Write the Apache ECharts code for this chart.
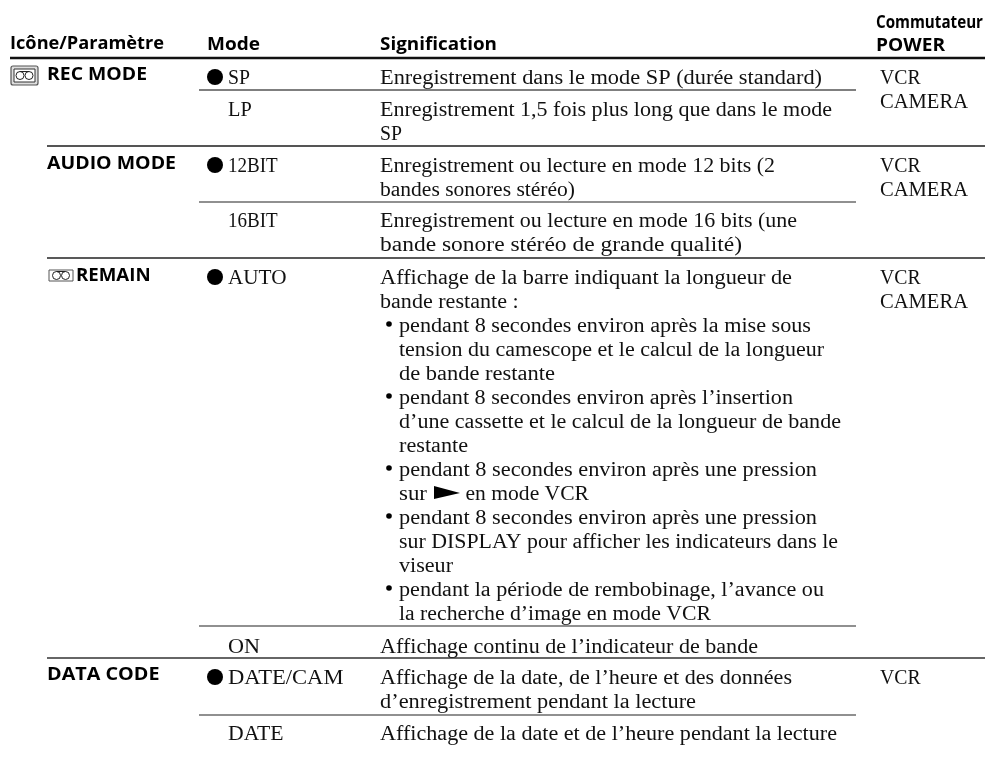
<!DOCTYPE html>
<html><head><meta charset="utf-8">
<style>html,body{margin:0;padding:0;background:#fff}#c{width:986px;height:765px}</style>
<script src="https://cdn.jsdelivr.net/npm/echarts@6/dist/echarts.min.js"></script>
</head><body><div id="c"></div>
<script>
// ---- table content ----
const columnHeaders = ['Icône/Paramètre', 'Mode', 'Signification'];
const switchHeader = ['Commutateur', 'POWER'];
const parameters = ['REC MODE', 'AUDIO MODE', 'REMAIN', 'DATA CODE'];
const modes = ['SP', 'LP', '12BIT', '16BIT', 'AUTO', 'ON', 'DATE/CAM', 'DATE'];
const defaultModes = ['SP', '12BIT', 'AUTO', 'DATE/CAM'];
const meanings = [
  ['Enregistrement dans le mode SP (durée standard)'],
  ['Enregistrement 1,5 fois plus long que dans le mode', 'SP'],
  ['Enregistrement ou lecture en mode 12 bits (2', 'bandes sonores stéréo)'],
  ['Enregistrement ou lecture en mode 16 bits (une', 'bande sonore stéréo de grande qualité)'],
  ['Affichage de la barre indiquant la longueur de', 'bande restante :',
   '•pendant 8 secondes environ après la mise sous', ' tension du camescope et le calcul de la longueur', ' de bande restante',
   '•pendant 8 secondes environ après l’insertion', ' d’une cassette et le calcul de la longueur de bande', ' restante',
   '•pendant 8 secondes environ après une pression', ' sur ► en mode VCR',
   '•pendant 8 secondes environ après une pression', ' sur DISPLAY pour afficher les indicateurs dans le', ' viseur',
   '•pendant la période de rembobinage, l’avance ou', ' la recherche d’image en mode VCR'],
  ['Affichage continu de l’indicateur de bande'],
  ['Affichage de la date, de l’heure et des données', 'd’enregistrement pendant la lecture'],
  ['Affichage de la date et de l’heure pendant la lecture']
];
const switches = [['VCR', 'CAMERA'], ['VCR', 'CAMERA'], ['VCR', 'CAMERA'], ['VCR']];

// ---- layout (page geometry, separate from the content) ----
const W = 986, H = 765;
const SERIF = '20.5px "Liberation Serif", serif';
const SANS = 'bold 18.2px "Open Sans", sans-serif';
const SERIF_DY = 1.2, SANS_DY = 1;
const rowY = [77, 109, 165, 220, 277, 646, 677, 733];
const paramY = [73.5, 163, 275, 674];
const paramX = [47, 47, 76, 47];
const paramEnd = [147, 176, 150.6, 159.5];
const modeEnd = [250, 251.7, 277.7, 277.7, 286.5, 260, 343.5, 283.5];
const meaningEnd = [
  [822], [832, 402], [775, 575], [797, 742],
  [792, 518.6, 811, 824, 555, 793, 841, 468, 817, 589, 817, 838, 453, 824, 711],
  [758], [792, 696], [837]
];
const switchY = [77, 165, 277, 677];
const switchEnd = {VCR: 920.6, CAMERA: 968};
const LINE = 24;
const X = {param: 10, mode: 207, modeText: 228, mean: 380, indent: 399, sw: 880, dot: 215, bullet: 389};
const rules = [
  [10, 985, 58, 2.5, '#111'],
  [199, 856, 90, 1.6, '#555'],
  [47, 985, 146, 1.8, '#555'],
  [199, 856, 202, 1.2, '#222'],
  [47, 985, 258, 1.4, '#222'],
  [199, 856, 626, 1.2, '#222'],
  [47, 985, 658, 1.4, '#333'],
  [199, 856, 715, 1.2, '#222']
];

const ctx = document.createElement('canvas').getContext('2d');
const texts = [], dots = [], arrows = [];
// each text is stretched horizontally so that it ends where the reference's line ends
const put = (x, y, text, font, end) => {
  ctx.font = font;
  const sx = end ? (end - x) / ctx.measureText(text).width : 1;
  texts.push({x, y: y + (font === SERIF ? SERIF_DY : SANS_DY), text, font, sx});
};
put(X.param, 43, columnHeaders[0], SANS, 164);
put(X.mode, 44, columnHeaders[1], SANS, 260);
put(X.mean, 44, columnHeaders[2], SANS, 497);
put(876, 22, switchHeader[0], SANS, 983);
put(876, 45, switchHeader[1], SANS, 945);
parameters.forEach((p, i) => put(paramX[i], paramY[i], p, SANS, paramEnd[i]));
modes.forEach((m, i) => {
  put(X.modeText, rowY[i], m, SERIF, modeEnd[i]);
  if (defaultModes.includes(m)) dots.push([X.dot, rowY[i], 8]);
});
meanings.forEach((lines, r) => lines.forEach((ln, i) => {
  const y = rowY[r] + i * LINE, end = meaningEnd[r][i];
  if (ln[0] === '•') { dots.push([X.bullet, y - 1, 2.8]); put(X.indent, y, ln.slice(1), SERIF, end); }
  else if (ln[0] === ' ') {
    if (ln.includes('►')) {
      const parts = ln.trim().split('►');
      put(X.indent, y, parts[0].trim(), SERIF, 427);
      arrows.push([434, y]);
      put(465.5, y, parts[1].trim(), SERIF, end);
    } else put(X.indent, y, ln.trim(), SERIF, end);
  } else put(X.mean, y, ln, SERIF, end);
}));
switches.forEach((s, i) => s.forEach((t, k) => put(X.sw, switchY[i] + k * LINE, t, SERIF, switchEnd[t])));

const chart = echarts.init(document.getElementById('c'), null, {renderer: 'canvas'});
const lineStyle = (w, c) => ({stroke: c, lineWidth: w, fill: 'none'});
function icon(api, x, y, w, h, big) {
  const [px, py] = api.coord([x, y]);
  const kids = [];
  kids.push({type: 'rect', shape: {x: px, y: py, width: w, height: h, r: big ? 2 : 0}, style: {stroke: '#555', lineWidth: big ? 1.2 : 1, fill: big ? '#ddd' : '#fff'}});
  if (big) kids.push({type: 'rect', shape: {x: px + 3, y: py + 3, width: w - 6, height: h - 6}, style: {stroke: '#333', lineWidth: 1, fill: '#fff'}});
  const r = 4, cx = px + w / 2, cy = py + h / 2;
  kids.push({type: 'circle', shape: {cx: cx - r - .5, cy, r}, style: {stroke: '#222', lineWidth: 1, fill: 'none'}});
  kids.push({type: 'circle', shape: {cx: cx + r + .5, cy, r}, style: {stroke: '#222', lineWidth: 1, fill: 'none'}});
  kids.push({type: 'line', shape: {x1: cx - r - .5, y1: cy - r, x2: cx + r + .5, y2: cy - r}, style: {stroke: '#222', lineWidth: 1}});
  return {type: 'group', children: kids};
}
const base = {type: 'custom', coordinateSystem: 'cartesian2d', silent: true, animation: false, clip: false};
chart.setOption({
  animation: false,
  backgroundColor: '#fff',
  grid: {left: 0, top: 0, width: W, height: H, containLabel: false},
  xAxis: {type: 'value', min: 0, max: W, show: false},
  yAxis: {type: 'value', min: 0, max: H, inverse: true, show: false},
  tooltip: {show: false},
  series: [
    Object.assign({}, base, {name: 'rules', data: rules.map((r, i) => [r[0], r[2], i]), encode: {x: 0, y: 1},
      renderItem(p, api) {
        const r = rules[api.value(2)];
        const a = api.coord([r[0], r[2]]), b = api.coord([r[1], r[2]]);
        return {type: 'line', shape: {x1: a[0], y1: a[1], x2: b[0], y2: b[1]}, style: lineStyle(r[3], r[4])};
      }}),
    Object.assign({}, base, {name: 'dots', data: dots, encode: {x: 0, y: 1},
      renderItem(p, api) {
        const c = api.coord([api.value(0), api.value(1)]);
        return {type: 'circle', shape: {cx: c[0], cy: c[1], r: api.value(2)}, style: {fill: '#000'}};
      }}),
    Object.assign({}, base, {name: 'arrows', data: arrows, encode: {x: 0, y: 1},
      renderItem(p, api) {
        const c = api.coord([api.value(0), api.value(1)]);
        return {type: 'polygon', shape: {points: [[c[0], c[1] - 7], [c[0] + 26, c[1]], [c[0], c[1] + 6]]}, style: {fill: '#000'}};
      }}),
    Object.assign({}, base, {name: 'icons', data: [[11, 66, 27, 19, 1], [49, 270, 24, 11, 0]], encode: {x: 0, y: 1},
      renderItem(p, api) { return icon(api, api.value(0), api.value(1), api.value(2), api.value(3), api.value(4) === 1); }}),
    Object.assign({}, base, {name: 'texts', data: texts.map((t, i) => [t.x, t.y, i]), encode: {x: 0, y: 1},
      renderItem(p, api) {
        const t = texts[api.value(2)];
        const c = api.coord([t.x, t.y]);
        return {type: 'text', x: c[0], y: c[1], scaleX: t.sx, style: {text: t.text, font: t.font, fill: t.font === SANS ? '#000' : '#111', textAlign: 'left', textVerticalAlign: 'middle'}};
      }})
  ]
});
</script></body></html>
